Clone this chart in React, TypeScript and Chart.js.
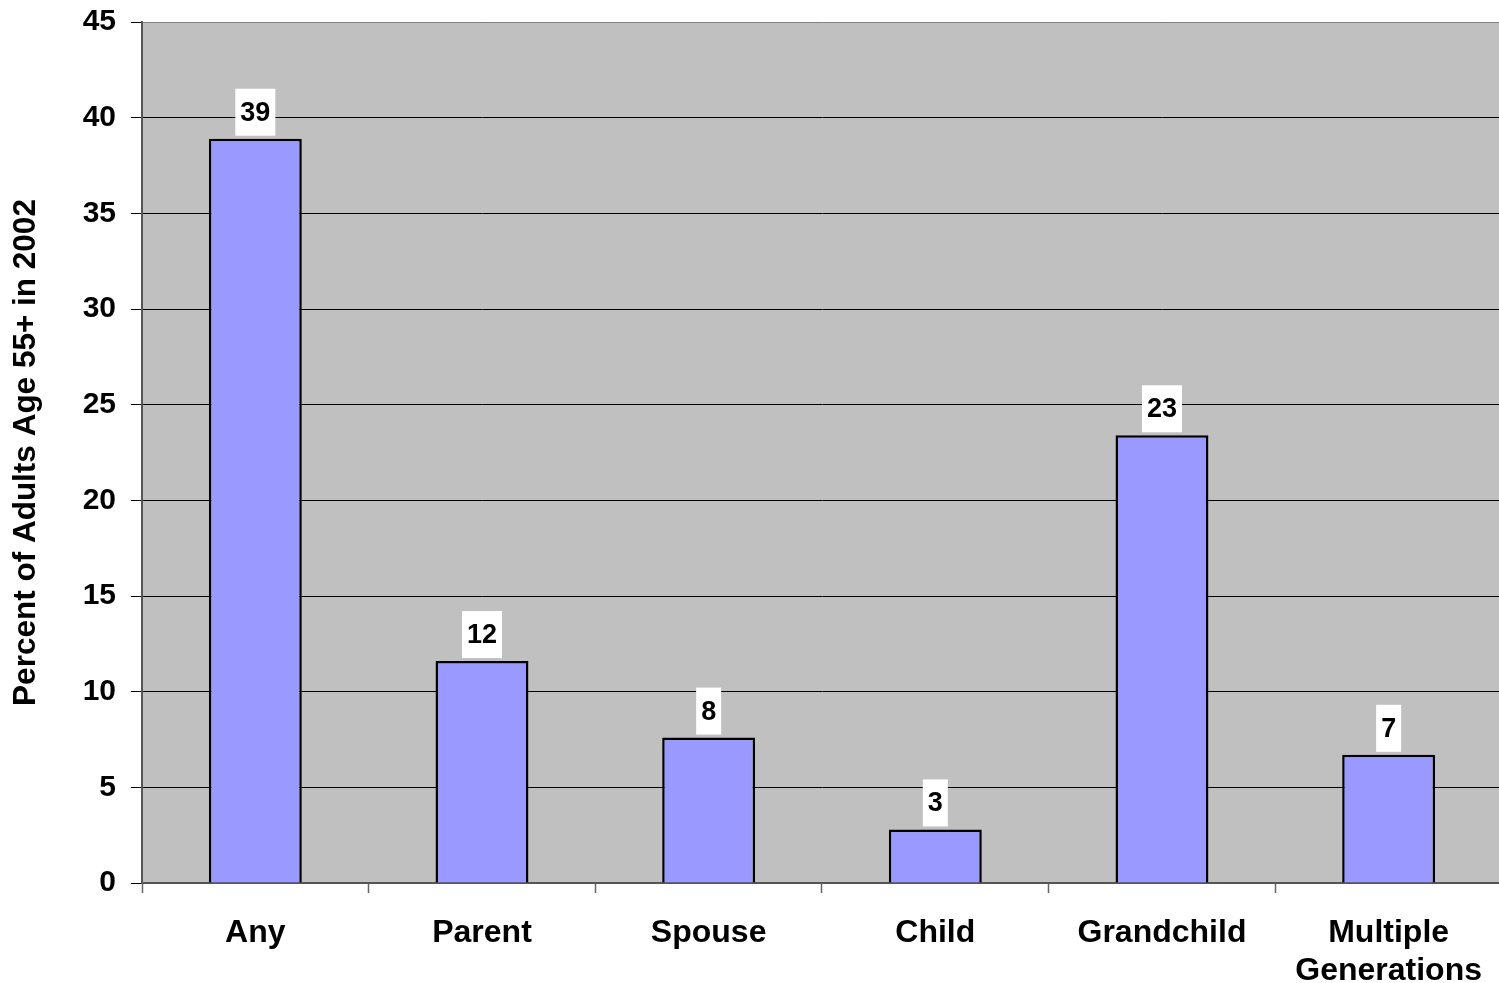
import React, { useEffect, useRef } from "react";
import { Chart, registerables } from "chart.js";

Chart.register(...registerables);

const categories: (string | string[])[] = [
  "Any",
  "Parent",
  "Spouse",
  "Child",
  "Grandchild",
  ["Multiple", "Generations"],
];
const percentValues: number[] = [38.9, 11.6, 7.6, 2.8, 23.4, 6.7];
const yAxisTitle = "Percent of Adults Age 55+ in 2002";
const yMin = 0;
const yMax = 45;
const yStep = 5;

const FONT = 'Arial, "Liberation Sans", Helvetica, sans-serif';

const plotBackground = {
  id: "plotBackground",
  beforeDraw(chart: any) {
    const { ctx, chartArea } = chart;
    ctx.save();
    ctx.fillStyle = "#C0C0C0";
    ctx.fillRect(chartArea.left, chartArea.top, chartArea.right - chartArea.left, chartArea.bottom - chartArea.top);
    ctx.restore();
  },
};

const valueLabels = {
  id: "valueLabels",
  afterDatasetsDraw(chart: any) {
    const { ctx } = chart;
    const meta = chart.getDatasetMeta(0);
    const data = chart.data.datasets[0].data as number[];
    ctx.save();
    ctx.font = `bold 27px ${FONT}`;
    ctx.textAlign = "center";
    ctx.textBaseline = "middle";
    meta.data.forEach((bar: any, i: number) => {
      const text = String(Math.round(data[i]));
      const w = ctx.measureText(text).width + 10;
      const h = 47;
      const bottom = bar.y - 3;
      ctx.fillStyle = "#FFFFFF";
      ctx.fillRect(bar.x - w / 2, bottom - h, w, h);
      ctx.fillStyle = "#000000";
      ctx.fillText(text, bar.x, bottom - h / 2 + 1);
    });
    ctx.restore();
  },
};

export default function App() {
  const canvasRef = useRef<HTMLCanvasElement | null>(null);

  useEffect(() => {
    if (!canvasRef.current) return;
    const chart = new Chart(canvasRef.current, {
      type: "bar",
      data: {
        labels: categories,
        datasets: [
          {
            data: percentValues,
            backgroundColor: "#9999FF",
            borderColor: "#000000",
            borderWidth: 2.5,
            barPercentage: 0.41,
            categoryPercentage: 1,
          },
        ],
      },
      options: {
        responsive: false,
        animation: false,
        devicePixelRatio: 1,
        layout: { padding: { top: 22, right: 0, left: 0, bottom: 0 } },
        plugins: {
          legend: { display: false },
          tooltip: { enabled: false },
          title: { display: false },
        },
        scales: {
          x: {
            grid: {
              offset: true,
              drawOnChartArea: false,
              drawTicks: true,
              tickLength: 10,
              tickColor: "#666666",
              tickWidth: 1.5,
            },
            border: { color: "#555555", width: 2 },
            ticks: {
              color: "#000000",
              font: { family: FONT, size: 32, weight: "bold", lineHeight: 1.2 },
              padding: 21,
              maxRotation: 0,
              autoSkip: false,
            },
            afterFit(scale: any) {
              scale.height = 100;
              scale.paddingTop = 0;
            },
          },
          y: {
            min: yMin,
            max: yMax,
            grid: {
              color: (ctx: any) => (ctx.tick && ctx.tick.value === yMax ? "#808080" : "#000000"),
              lineWidth: 1,
              drawTicks: true,
              tickLength: 11,
              tickColor: "#000000",
            },
            border: { color: "#555555", width: 2 },
            ticks: {
              stepSize: yStep,
              color: "#000000",
              font: { family: FONT, size: 30, weight: "bold" },
              padding: 15,
            },
            title: {
              display: true,
              text: yAxisTitle,
              color: "#000000",
              font: { family: FONT, size: 31.5, weight: "bold" },
              padding: { top: 7, bottom: 0 },
            },
            afterFit(scale: any) {
              scale.width = 142;
              scale.paddingTop = 0;
            },
          },
        },
      },
      plugins: [plotBackground, valueLabels],
    });
    return () => chart.destroy();
  }, []);

  return (
    <div style={{ position: "absolute", left: 0, top: 0, width: 1499, height: 983, overflow: "hidden", background: "#FFFFFF" }}>
      <canvas ref={canvasRef} width={1503} height={983} style={{ width: 1503, height: 983, display: "block" }} />
    </div>
  );
}
